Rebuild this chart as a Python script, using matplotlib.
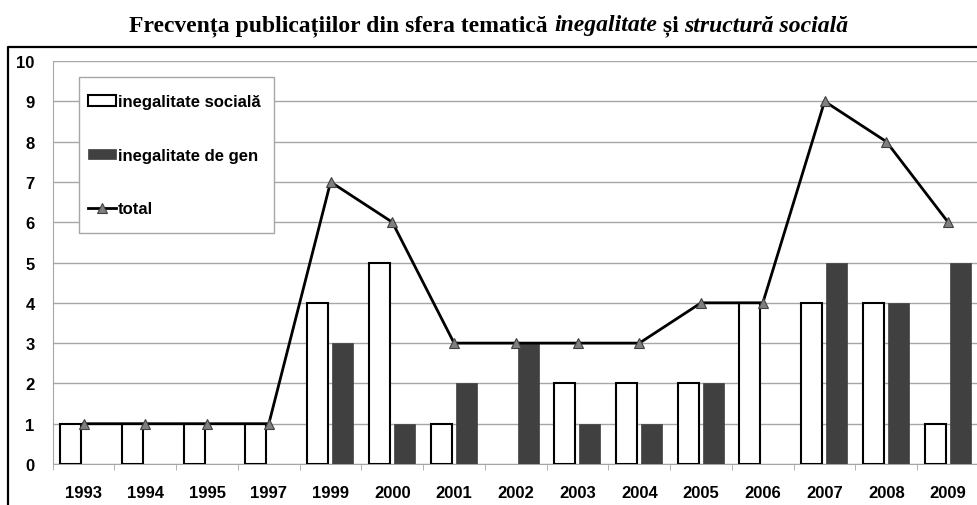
import numpy as np
import matplotlib
matplotlib.use('Agg')
import matplotlib.pyplot as plt
from matplotlib.lines import Line2D
from matplotlib.patches import Rectangle

# data
years = ['1993', '1994', '1995', '1997', '1999', '2000', '2001', '2002',
         '2003', '2004', '2005', '2006', '2007', '2008', '2009']
inegalitate_sociala = [1, 1, 1, 1, 4, 5, 1, 0, 2, 2, 2, 4, 4, 4, 1]
inegalitate_gen = [0, 0, 0, 0, 3, 1, 2, 3, 1, 1, 2, 0, 5, 4, 5]
total = [1, 1, 1, 1, 7, 6, 3, 3, 3, 3, 4, 4, 9, 8, 6]

fig = plt.figure(figsize=(9.78, 5.06), dpi=100)
ax = fig.add_axes([0.0539, 0.081, 0.9471, 0.7964])

x = np.arange(len(years))
bar_w = 0.34

# no outline for empty bars
lw_soc = [1.5 if v > 0 else 0 for v in inegalitate_sociala]
b1 = ax.bar(x - 0.21, inegalitate_sociala, bar_w, color='white', edgecolor='black',
            linewidth=lw_soc, zorder=3, label='inegalitate socială')
b2 = ax.bar(x + 0.20, inegalitate_gen, bar_w, color='#404040', edgecolor='#404040',
            linewidth=0.5, zorder=3, label='inegalitate de gen')
l1, = ax.plot(x, total, color='black', linewidth=2, marker='^', markersize=7.5,
              markerfacecolor='#808080', markeredgecolor='#404040',
              markeredgewidth=0.8, zorder=4, label='total')

# axes
ax.set_xlim(-0.5, len(years) - 0.5)
ax.set_ylim(0, 10)
ax.set_yticks(range(0, 11))
ax.yaxis.grid(True, color='#a6a6a6', linewidth=1)
ax.set_axisbelow(True)
for s in ['top', 'right']:
    ax.spines[s].set_visible(False)
ax.spines['left'].set_color('#a6a6a6')
ax.spines['bottom'].set_color('#a6a6a6')

ax.set_xticks(x)
ax.set_xticklabels(years)
ax.set_xticks(np.arange(-0.5, len(years)), minor=True)
ax.tick_params(axis='x', which='major', length=0, pad=15)
ax.tick_params(axis='x', which='minor', length=4, color='#a6a6a6', direction='out')
ax.tick_params(axis='y', length=0, pad=13)
for lbl in ax.get_xticklabels() + ax.get_yticklabels():
    lbl.set_fontfamily('Liberation Sans')
    lbl.set_fontweight('bold')
    lbl.set_fontsize(12)

# legend (frame drawn separately so it can be taller than the entries)
leg = ax.legend([b1, b2, l1], ['inegalitate socială', 'inegalitate de gen', 'total'],
                loc='upper left', bbox_to_anchor=(0.0284, 0.940), borderaxespad=0,
                prop={'family': 'Liberation Sans', 'weight': 'bold', 'size': 12},
                frameon=False, labelspacing=2.3, handlelength=1.68,
                handletextpad=0.12, borderpad=0.55, handleheight=0.55)
leg.set_zorder(6)

renderer = fig.canvas.get_renderer()
bb = leg.get_window_extent(renderer)
extra = 8
ax.add_patch(Rectangle((bb.x0, bb.y0 - extra), bb.width + 4, bb.height + 2 * extra,
                       transform=None, facecolor='white', edgecolor='#a6a6a6',
                       linewidth=1, zorder=5, clip_on=False))

# outer frame
fig.add_artist(Line2D([8 / 978, 8 / 978, 1.01], [-0.01, 1 - 48 / 506, 1 - 48 / 506],
                      transform=fig.transFigure, color='black', linewidth=1.6))

# title with mixed bold / bold italic parts
parts = [('Frecvența publicațiilor din sfera tematică ', 'normal'),
         ('inegalitate', 'italic'),
         (' și ', 'normal'),
         ('structură socială', 'italic')]
texts = []
width = 0
for s, st in parts:
    t = fig.text(0, 1 - 26 / 506, s, family='Liberation Serif', weight='bold',
                 style=st, fontsize=17, va='center', ha='left')
    w = t.get_window_extent(renderer).width
    texts.append((t, w))
    width += w
xpos = 489 - width / 2
for t, w in texts:
    t.set_x(xpos / 978)
    xpos += w

fig.savefig('out.png', dpi=100)
